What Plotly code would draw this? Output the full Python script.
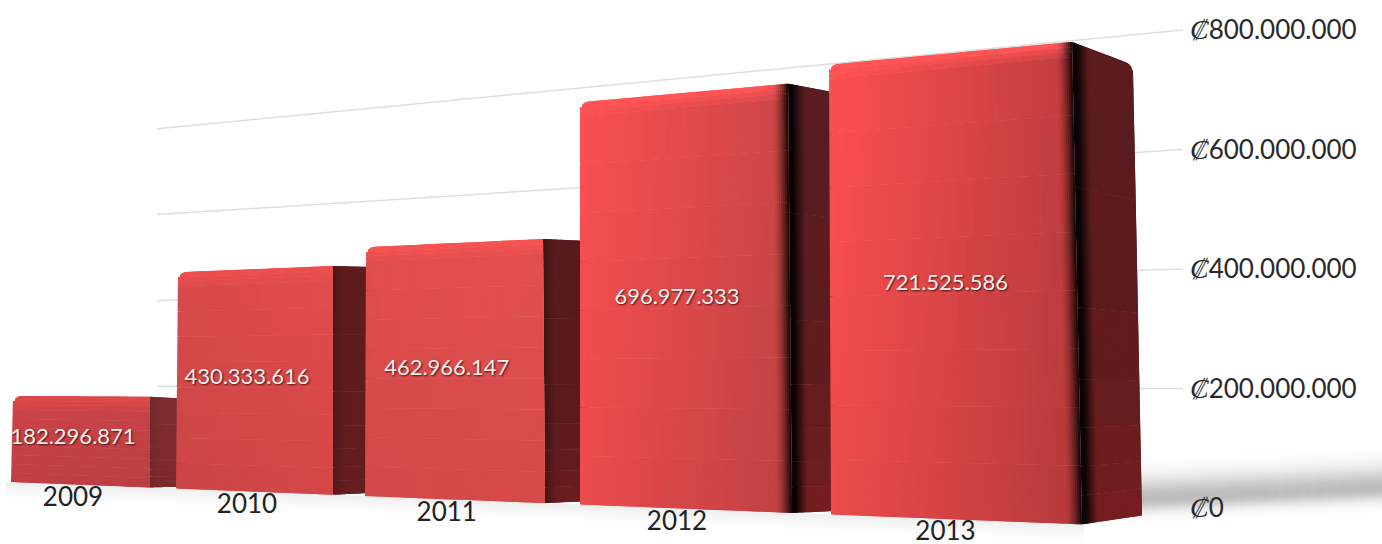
import math
import plotly.graph_objects as go

# Annual totals in colones
years = ["2009", "2010", "2011", "2012", "2013"]
totals = [182296871, 430333616, 462966147, 696977333, 721525586]
axis_ticks = [0, 200000000, 400000000, 600000000, 800000000]
axis_amounts = ["0", "200.000.000", "400.000.000", "600.000.000", "800.000.000"]
currency = "₡"

WIDTH, HEIGHT = 1382, 544

# Bar footprint on screen: top-left / top-right x, plus how far each edge leans at the foot
left_x = [13, 178, 366, 580, 829]
right_x = [150, 333, 543, 788, 1072]
left_lean = [-2, -2, -1, 0, 2]
right_lean = [0, 0, 2, 4, 10]
side_depth = [36, 42, 46, 48, 61]
back_lean = [0, 0, 0, 2, 9]
side_top_drop = [2, 1, 2, 9, 23]
side_foot_rise = [1, 2, 2, 2, 9]

# Face shading per bar
front_left = [(206, 68, 72), (218, 74, 74), (226, 78, 78), (252, 80, 80), (254, 80, 80)]
front_right = [(200, 68, 72), (226, 76, 76), (228, 80, 78), (208, 71, 73), (198, 63, 65)]
top_glow = [(222, 72, 72), (238, 78, 78), (246, 82, 82), (255, 84, 84), (255, 84, 84)]
side_tone = [(124, 44, 46), (94, 28, 30), (88, 27, 29), (90, 28, 32), (90, 28, 30)]
edge_dark = [0.12, 0.35, 0.6, 1.0, 1.0]

# Axis is linear along the right-hand wall; one colon maps to this many pixels
ZERO_PX = 508.0
PX_PER_UNIT = 478.0 / 800e6


def to_axis(px):
    return (ZERO_PX - px) / PX_PER_UNIT


def front_px(x, value):
    # Perspective of the plane holding the front faces
    return 482 + 0.0396 * (x - 12) - value / 1e6 * (0.4698 + 0.000185 * x)


def wall_px(x, value):
    # Perspective of the rear wall holding the gridlines
    t = (x - 157) / (1183 - 157)
    return 472 + 36 * t - value / 1e6 * (0.429 + 0.1685 * t)


def mix(a, b, t):
    t = max(0.0, min(1.0, t))
    return tuple(a[i] + (b[i] - a[i]) * t for i in range(3))


def css(c):
    return "rgb(%d,%d,%d)" % tuple(round(v) for v in c)


fig = go.Figure()


def patch(xs, ys, color):
    fig.add_trace(go.Scatter(
        x=xs, y=[to_axis(v) for v in ys], mode="lines", fill="toself",
        fillcolor=color, line=dict(width=0), hoverinfo="skip", showlegend=False,
    ))


# Soft floor shadow to the right of the last bar
xa, xb = 1125, 1382
ya, yb = 499 + (xa - 1140) * -0.045, 499 + (xb - 1140) * -0.045
for step in range(-80, 60):
    off = step / 2
    sigma = 14.5 if off < 0 else 8.5
    grey = 255 - 66 * math.exp(-(off * off) / (2 * sigma * sigma))
    patch([xa, xb, xb, xa], [ya + off, yb + off, yb + off + 1.2, ya + off + 1.2],
          css((grey, grey, grey)))

# Faint contact shadow along the foot of the bars
for off in range(18, -1, -1):
    grey = 255 - 16 * (1 - off / 18) ** 1.5
    ground = [front_px(x, 0) + off for x in (6, 1084)]
    patch([6, 1084, 1084, 6], [ground[0], ground[1], ground[1] + 2, ground[0] + 2],
          css((grey, grey, grey)))

# Gridlines on the rear wall
for tick in axis_ticks[1:]:
    fig.add_trace(go.Scatter(
        x=[157, 1183], y=[to_axis(wall_px(157, tick)), to_axis(wall_px(1183, tick))],
        mode="lines", line=dict(color="#dddddd", width=1.5),
        hoverinfo="skip", showlegend=False,
    ))


def corner(dist, radius):
    if dist >= radius:
        return 0.0
    return radius - math.sqrt(radius * radius - (radius - dist) ** 2)


def draw_side(i):
    value = totals[i]
    depth = side_depth[i]
    x0_top, x0_foot = right_x[i], right_x[i] + right_lean[i]
    x1_top = right_x[i] + depth
    x1_foot = x1_top + back_lean[i] + right_lean[i] * 0
    top0, foot0 = front_px(x0_top, value), front_px(x0_foot, 0)
    top1, foot1 = top0 + side_top_drop[i], foot0 - side_foot_rise[i]
    cols = [k / depth for k in range(0, min(18, depth), 1)] + \
           [18 / depth + k * (1 - 18 / depth) / 6 for k in range(6)] + \
           [1 - 7 / depth * f for f in (0.75, 0.5, 0.25)] + [1.0]
    cols = sorted(set(round(c, 5) for c in cols))
    rows = [0.0, 0.06, 0.12, 0.2, 0.3, 0.45, 0.7, 1.0]

    def pt(u, w):
        x = (x0_foot + (x1_foot - x0_foot) * u) * (1 - w) + (x0_top + (x1_top - x0_top) * u) * w
        foot = foot0 + (foot1 - foot0) * u
        top = top0 + (top1 - top0) * u
        if w >= 1:
            top += corner((1 - u) * depth, 7)
        return x, foot + (top - foot) * w

    for r in range(len(rows) - 2, -1, -1):
        for c in range(len(cols) - 1):
            u0, u1 = cols[c], cols[min(c + 2, len(cols) - 1)]
            w0, w1 = rows[r], rows[r + 1]
            px_in = (cols[c] + cols[c + 1]) / 2 * depth
            tone = mix(side_tone[i], (118, 30, 32), (1 - (w0 + w1) / 2) ** 3 * edge_dark[i])
            if edge_dark[i] >= 1:
                shade = mix((10, 4, 4), tone, (px_in - 4) / 12)
            else:
                shade = mix(tone, (48, 14, 16), edge_dark[i] * max(0, 1 - px_in / 12))
            pts = [pt(u0, w0), pt(u1, w0), pt(u1, w1), pt(u0, w1)]
            patch([p[0] for p in pts], [p[1] for p in pts], css(shade))


def draw_front(i):
    value = totals[i]
    lx, rx = left_x[i], right_x[i]
    width = rx - lx
    height = front_px(lx, 0) - front_px(lx, value)
    radius = 8
    ramp = 16
    span = 1 - (radius + ramp) / width
    cols = [f * radius / width for f in (0, 0.25, 0.5, 0.75)] + \
           [radius / width + k * span / 26 for k in range(26)] + \
           [1 - (ramp - k) / width for k in range(0, ramp, 2)] + [1.0]
    cols = sorted(set(round(c, 5) for c in cols))
    rows = [k / 8 * (1 - 14 / height) for k in range(9)] + [1 - 9 / height, 1 - 5 / height, 1.0]

    def pt(u, w):
        xt = lx + width * u
        xf = lx + left_lean[i] + (width + right_lean[i] - left_lean[i]) * u
        x = xf * (1 - w) + xt * w
        y = front_px(x, value * w)
        if w >= 1:
            y += corner(u * width, radius)
        return x, y

    for r in range(len(rows) - 2, -1, -1):
        glow = {len(rows) - 2: 1.0, len(rows) - 3: 0.6, len(rows) - 4: 0.3}.get(r, 0.0)
        for c in range(len(cols) - 1):
            u0, u1 = cols[c], cols[min(c + 2, len(cols) - 1)]
            w0, w1 = rows[r], rows[r + 1]
            mid, wm = (cols[c] + cols[c + 1]) / 2, (w0 + w1) / 2
            color = mix(front_left[i], front_right[i], mid / 0.92)
            color = tuple(v * (0.93 + 0.07 * wm) for v in color)
            color = mix(color, top_glow[i], glow)
            if edge_dark[i] >= 1:
                color = mix(color, (20, 6, 6), ((mid - (1 - ramp / width)) / (ramp / width)) ** 1.5 if mid > 1 - ramp / width else 0)
            pts = [pt(u0, w0), pt(u1, w0), pt(u1, w1), pt(u0, w1)]
            patch([p[0] for p in pts], [p[1] for p in pts], css(color))


# Later bars overlap the side face of the one before
for i in range(len(years)):
    draw_side(i)
    draw_front(i)

# Value labels sit halfway up each front face, year labels just below it
centers = [(left_x[i] + right_x[i] + (left_lean[i] + right_lean[i]) / 2) / 2 - 8 for i in range(len(years))]
value_y = [to_axis(front_px(cx, v / 2) - 2) for cx, v in zip(centers, totals)]
year_y = [to_axis(front_px(cx, 0) + 15) for cx in centers]

fig.add_trace(go.Scatter(
    x=centers, y=value_y, mode="text",
    text=[f"{v:,}".replace(",", ".") for v in totals],
    textposition="middle center",
    textfont=dict(family="Lato", size=22, color="#f6f0ee", shadow="1px 1px 2px rgba(40,0,0,0.8)"),
    hoverinfo="skip", showlegend=False,
))
fig.add_trace(go.Scatter(
    x=centers, y=year_y, mode="text", text=years,
    textposition="middle center",
    textfont=dict(family="Lato", size=26, color="#222222"),
    hoverinfo="skip", showlegend=False,
))

# The currency sign is set larger and slanted ahead of each amount
tick_text = [
    f"<span style=\"font-family:'DejaVu Serif';font-size:28px\"><i>{currency}</i></span>{a}"
    for a in axis_amounts
]

fig.update_layout(
    width=WIDTH, height=HEIGHT,
    margin=dict(l=0, r=0, t=0, b=0),
    paper_bgcolor="white", plot_bgcolor="white",
    showlegend=False,
    xaxis=dict(range=[0, WIDTH], visible=False, fixedrange=True),
    yaxis=dict(
        range=[to_axis(HEIGHT), to_axis(0)],
        side="right", anchor="free", position=1189 / WIDTH,
        tickmode="array", tickvals=axis_ticks, ticktext=tick_text,
        ticks="", showgrid=False, zeroline=False, showline=False, fixedrange=True,
        tickfont=dict(family="Lato", size=26, color="#2a2a2a"),
    ),
)

fig.write_html("out.html", config=dict(displayModeBar=False))
